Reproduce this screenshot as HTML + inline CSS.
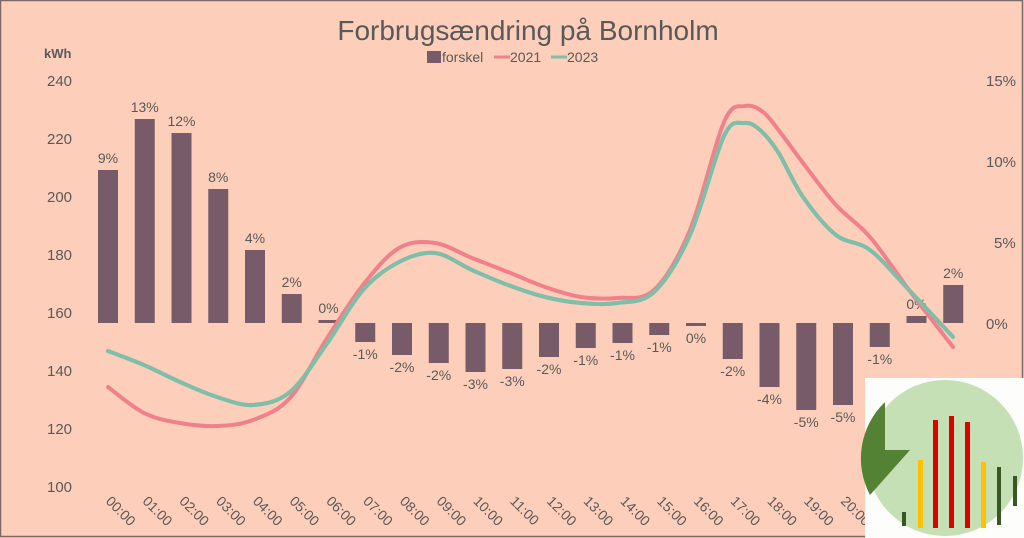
<!DOCTYPE html>
<html><head><meta charset="utf-8"><style>
html,body{margin:0;padding:0;}
body{width:1024px;height:538px;overflow:hidden;background:#fdcfbb;font-family:"Liberation Sans",sans-serif;}
</style></head><body>
<svg id="s" width="1024" height="538" xmlns="http://www.w3.org/2000/svg" style="position:absolute;left:0;top:0">
<rect x="0.5" y="0.5" width="1022" height="536" fill="#fdcfbb" stroke="#7a6a66" stroke-width="1.5"/>
<text x="528" y="40" text-anchor="middle" font-size="28" fill="#595959">Forbrugsændring på Bornholm</text>
<rect x="427" y="51" width="14" height="12" fill="#775b69"/>
<text x="442" y="62" font-size="14" fill="#595959">forskel</text>
<line x1="494" y1="57" x2="510" y2="57" stroke="#f0808a" stroke-width="3"/>
<text x="510" y="62" font-size="14" fill="#595959">2021</text>
<line x1="551" y1="57" x2="567" y2="57" stroke="#7fbfa9" stroke-width="3"/>
<text x="567" y="62" font-size="14" fill="#595959">2023</text>
<text x="44" y="58" font-size="13" font-weight="bold" fill="#595959">kWh</text>
<g font-size="15" fill="#595959" text-anchor="start">
<text x="47" y="86">240</text><text x="47" y="144">220</text><text x="47" y="202">200</text>
<text x="47" y="260">180</text><text x="47" y="318">160</text><text x="47" y="376">140</text>
<text x="47" y="434">120</text><text x="47" y="492">100</text>
<text x="986" y="86">15%</text><text x="986" y="167">10%</text><text x="994" y="248">5%</text><text x="986" y="329">0%</text>
</g>
<g id="bars"></g>
<g id="lines"></g>
<g id="xl" font-size="14" fill="#595959"></g>
<g>
<rect x="865" y="378" width="159" height="160" fill="#fdfdfb"/>
<circle cx="945" cy="458" r="78" fill="#c5e0b4"/>
<path d="M885,402 L885,450 L910,450 L870,495 A78,78 0 0,1 885,402 Z" fill="#548235"/>
<rect x="902" y="512" width="4" height="14" fill="#385723"/>
<rect x="918" y="460" width="5" height="68" fill="#ffc000"/>
<rect x="933" y="420" width="5" height="108" fill="#e00000"/>
<rect x="949" y="416" width="5" height="112" fill="#e00000"/>
<rect x="965" y="422" width="5" height="106" fill="#e00000"/>
<rect x="981" y="462" width="5" height="66" fill="#ffc000"/>
<rect x="997" y="467" width="4" height="58" fill="#385723"/>
<rect x="1013" y="476" width="4" height="30" fill="#385723"/>
</g>
</svg>
<script>
var ns="http://www.w3.org/2000/svg";
function el(t,a,p,txt){var e=document.createElementNS(ns,t);for(var k in a)e.setAttribute(k,a[k]);if(txt)e.textContent=txt;document.getElementById(p).appendChild(e);return e;}
var base=323;
var tops=[170,119,133,189,250,294,320,342,355,363,372,369,357,348,343,335,326,359,387,410,405,347,316,285];
var labs=["9%","13%","12%","8%","4%","2%","0%","-1%","-2%","-2%","-3%","-3%","-2%","-1%","-1%","-1%","0%","-2%","-4%","-5%","-5%","-1%","0%","2%"];
for(var i=0;i<24;i++){
 var cx=108+i*36.75;
 var t=tops[i],y1=Math.min(t,base),y2=Math.max(t,base);
 if(y2-y1<2){y2=y1+3;}
 el("rect",{x:cx-10,y:y1,width:20,height:y2-y1,fill:"#775b69"},"bars");
 var ly=t<base? t-7 : y2+17;
 el("text",{x:cx,y:ly,"text-anchor":"middle","font-size":"14",fill:"#595959"},"bars",labs[i]);
 var h=(i<10?"0":"")+i+":00";
 el("text",{x:0,y:0,transform:"translate("+(cx-3)+",502) rotate(45)"},"xl",h);
}
var pink=[[108,387],[144,413],[180,423],[217,426],[253,420],[290,398],[326,340],[363,285],[399,248],[435,243],[472,258],[508,272],[545,287],[581,297],[617,298],[654,290],[690,230],[724,122],[745,106],[763,112],[780,132],[803,163],[836,205],[870,237],[909,290],[953,347]];
var teal=[[108,351],[144,365],[180,382],[217,397],[253,405],[290,392],[326,345],[363,290],[399,262],[435,253],[472,270],[508,285],[545,297],[581,303],[617,303],[654,292],[690,235],[724,136],[744,123],[760,130],[778,152],[803,197],[836,235],[870,250],[909,290],[953,337]];
function path(p){var d="M"+p[0][0]+","+p[0][1];for(var i=0;i<p.length-1;i++){var p0=p[i-1]||p[i],p1=p[i],p2=p[i+1],p3=p[i+2]||p2;
 d+=" C"+(p1[0]+(p2[0]-p0[0])/6)+","+(p1[1]+(p2[1]-p0[1])/6)+" "+(p2[0]-(p3[0]-p1[0])/6)+","+(p2[1]-(p3[1]-p1[1])/6)+" "+p2[0]+","+p2[1];}return d;}
el("path",{d:path(teal),fill:"none",stroke:"#7fbfa9","stroke-width":"4","stroke-linecap":"round"},"lines");
el("path",{d:path(pink),fill:"none",stroke:"#f0808a","stroke-width":"4","stroke-linecap":"round"},"lines");
el("path",{d:path(teal),fill:"none",stroke:"#7fbfa9","stroke-width":"4","stroke-linecap":"round"},"lines");
</script>
</body></html>
